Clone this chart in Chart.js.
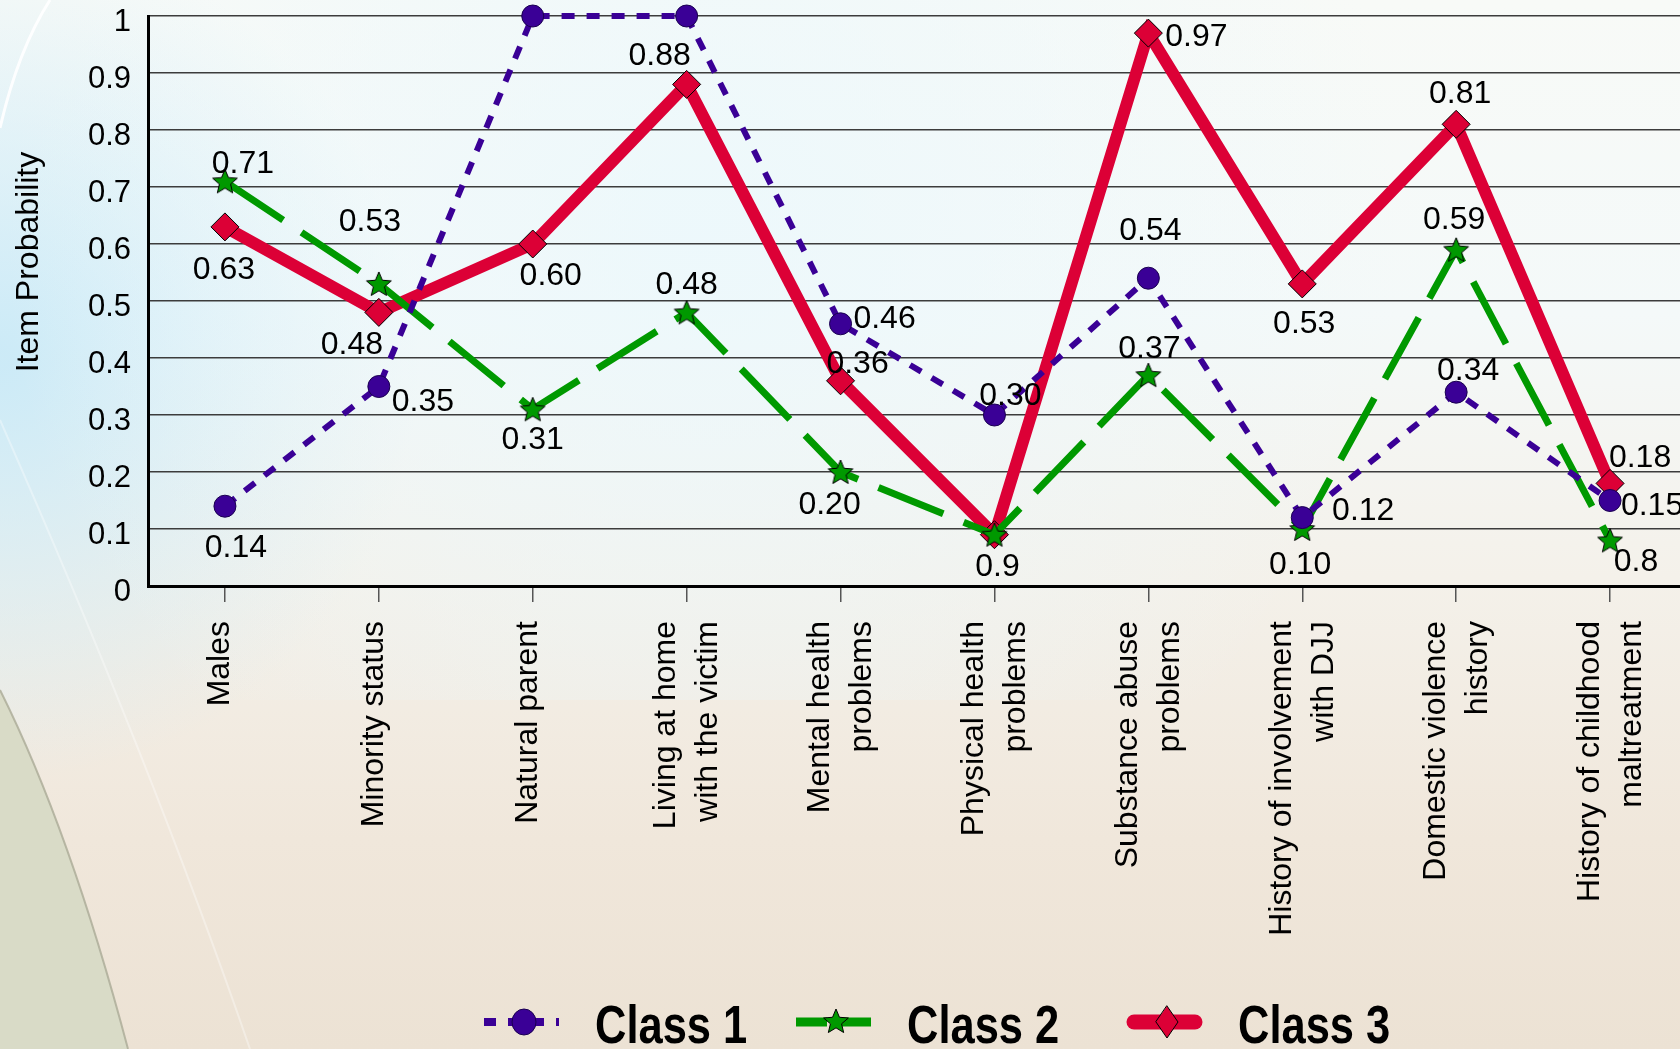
<!DOCTYPE html>
<html>
<head>
<meta charset="utf-8">
<script src="https://cdn.jsdelivr.net/npm/chart.js@4.4.1/dist/chart.umd.min.js"></script>
<style>
  html, body { margin: 0; padding: 0; width: 1680px; height: 1049px; overflow: hidden; background: #f3efe6; }
  #wrap { position: absolute; left: 0; top: 0; width: 1700px; height: 1049px; }
</style>
</head>
<body>
<div id="wrap"><canvas id="chart" width="1700" height="1049"></canvas></div>
<script>
// categories along the x axis (multi-line ones as arrays)
const categories = [
  'Males',
  'Minority status',
  'Natural parent',
  ['Living at home', 'with the victim'],
  ['Mental health', 'problems'],
  ['Physical health', 'problems'],
  ['Substance abuse', 'problems'],
  ['History of involvement', 'with DJJ'],
  ['Domestic violence', 'history'],
  ['History of childhood', 'maltreatment']
];

const seriesNames = ['Class 1', 'Class 2', 'Class 3'];

const class1 = [0.14, 0.35, 1.00, 1.00, 0.46, 0.30, 0.54, 0.12, 0.34, 0.15];
const class2 = [0.71, 0.53, 0.31, 0.48, 0.20, 0.09, 0.37, 0.10, 0.59, 0.08];
const class3 = [0.63, 0.48, 0.60, 0.88, 0.36, 0.09, 0.97, 0.53, 0.81, 0.18];

// value labels as printed on the chart (null = no label)
const class1Labels = ['0.14', '0.35', null, null, '0.46', '0.30', '0.54', '0.12', '0.34', '0.15'];
const class2Labels = ['0.71', '0.53', '0.31', '0.48', '0.20', null, '0.37', '0.10', '0.59', '0.8'];
const class3Labels = ['0.63', '0.48', '0.60', '0.88', '0.36', '0.9', '0.97', '0.53', '0.81', '0.18'];

const yTickLabels = ['0', '0.1', '0.2', '0.3', '0.4', '0.5', '0.6', '0.7', '0.8', '0.9', '1'];
const yTitle = 'Item Probability';

// where each value label sits relative to its point (px)
const class1Off = [[11, 42], [44, 16], null, null, [44, -5], [16, -19], [2, -47], [61, -6], [12, -21], [42, 6]];
const class2Off = [[18, -17], [-9, -62], [0, 31], [0, -27], [-11, 33], null, [1, -26], [-2, 36], [-2, -30], [26, 22]];
const class3Off = [[-1, 43], [-27, 33], [18, 32], [-27, -28], [17, -17], [3, 32], [48, 4], [2, 40], [4, -30], [30, -25]];

const FONT = '"Liberation Sans", Arial, sans-serif';
const PURPLE = '#3a0096';
const GREEN = '#009900';
const RED = '#dc0036';

function makeStar(size, fill) {
  const c = document.createElement('canvas');
  c.width = c.height = size;
  const g = c.getContext('2d');
  const cx = size / 2, R = size / 2 - 1, r = R * 0.45;
  g.beginPath();
  for (let i = 0; i < 10; i++) {
    const a = -Math.PI / 2 + i * Math.PI / 5;
    const rad = i % 2 ? r : R;
    g.lineTo(cx + rad * Math.cos(a), cx + 1 + rad * Math.sin(a));
  }
  g.closePath();
  g.fillStyle = fill;
  g.fill();
  g.lineWidth = 1;
  g.strokeStyle = '#000';
  g.stroke();
  return c;
}
const star = makeStar(28, GREEN);

// background of the slide
const bgPlugin = {
  id: 'bg',
  beforeDraw(chart) {
    const ctx = chart.ctx, w = chart.width, h = chart.height;
    ctx.save();
    let g = ctx.createLinearGradient(0, 0, 0, h);
    g.addColorStop(0, '#f8faf7');
    g.addColorStop(0.3, '#f4f9f9');
    g.addColorStop(0.55, '#f4f1ea');
    g.addColorStop(0.8, '#f0e7db');
    g.addColorStop(1, '#ece2d4');
    ctx.fillStyle = g;
    ctx.fillRect(0, 0, w, h);

    g = ctx.createRadialGradient(0, 360, 10, 0, 360, 420);
    g.addColorStop(0, 'rgba(200,233,247,0.9)');
    g.addColorStop(1, 'rgba(200,233,247,0)');
    ctx.fillStyle = g;
    ctx.fillRect(0, 0, 500, 800);

    g = ctx.createRadialGradient(700, 230, 10, 700, 230, 700);
    g.addColorStop(0, 'rgba(235,248,252,0.8)');
    g.addColorStop(1, 'rgba(235,248,252,0)');
    ctx.fillStyle = g;
    ctx.fillRect(0, 0, w, 700);

    // grey-green swoosh bottom left
    ctx.beginPath();
    ctx.moveTo(0, 690);
    ctx.quadraticCurveTo(70, 830, 128, 1049);
    ctx.lineTo(0, 1049);
    ctx.closePath();
    ctx.fillStyle = '#d9dbc7';
    ctx.fill();
    ctx.strokeStyle = 'rgba(170,170,150,0.8)';
    ctx.lineWidth = 2;
    ctx.beginPath();
    ctx.moveTo(0, 690);
    ctx.quadraticCurveTo(70, 830, 128, 1049);
    ctx.stroke();

    ctx.strokeStyle = 'rgba(255,255,255,0.35)';
    ctx.lineWidth = 2;
    ctx.beginPath();
    ctx.moveTo(0, 420);
    ctx.quadraticCurveTo(150, 760, 250, 1049);
    ctx.stroke();

    ctx.strokeStyle = 'rgba(255,255,255,0.9)';
    ctx.lineWidth = 3;
    ctx.beginPath();
    ctx.moveTo(50, 0);
    ctx.quadraticCurveTo(18, 50, 0, 128);
    ctx.stroke();
    ctx.restore();
  }
};

// value labels, y title, category labels and legend
const textPlugin = {
  id: 'texts',
  afterDatasetsDraw(chart) {
    const ctx = chart.ctx;
    const sets = [[class1Labels, class1Off], [class2Labels, class2Off], [class3Labels, class3Off]];
    ctx.save();
    ctx.font = '32px ' + FONT;
    ctx.fillStyle = '#000';
    ctx.textAlign = 'center';
    ctx.textBaseline = 'middle';
    sets.forEach(function(s, di) {
      const meta = chart.getDatasetMeta(di);
      s[0].forEach(function(txt, i) {
        if (!txt) return;
        const p = meta.data[i];
        ctx.fillText(txt, p.x + s[1][i][0], p.y + s[1][i][1]);
      });
    });
    ctx.restore();
  },
  afterDraw(chart) {
    const ctx = chart.ctx;
    const xs = chart.scales.x;
    ctx.save();
    ctx.fillStyle = '#000';

    // y axis title
    ctx.font = '32px ' + FONT;
    ctx.translate(29, 262);
    ctx.rotate(-Math.PI / 2);
    ctx.textAlign = 'center';
    ctx.textBaseline = 'middle';
    ctx.fillText(yTitle, 0, 0);
    ctx.setTransform(1, 0, 0, 1, 0, 0);

    // rotated category labels
    const lh = 42;
    categories.forEach(function(lab, i) {
      const lines = Array.isArray(lab) ? lab : [lab];
      const cx = xs.getPixelForTick(i) + (lines.length === 1 ? -5 : 1);
      lines.forEach(function(t, j) {
        const x = cx + (j - (lines.length - 1) / 2) * lh;
        ctx.save();
        ctx.translate(x, 621);
        ctx.rotate(-Math.PI / 2);
        ctx.textAlign = 'right';
        ctx.textBaseline = 'middle';
        ctx.fillText(t, 0, 0);
        ctx.restore();
      });
    });

    // legend
    const legendX = [484, 796, 1127];
    const ly = 1022;
    legendX.forEach(function(x0, i) {
      const ds = chart.data.datasets[i];
      ctx.save();
      ctx.strokeStyle = ds.borderColor;
      if (i === 0) { ctx.lineWidth = 8; ctx.setLineDash([12, 12]); ctx.lineCap = 'butt'; }
      if (i === 1) { ctx.lineWidth = 9; ctx.setLineDash([31, 14]); ctx.lineCap = 'butt'; }
      if (i === 2) { ctx.lineWidth = 15; ctx.lineCap = 'round'; }
      ctx.beginPath();
      ctx.moveTo(x0 + (i === 2 ? 7 : 0), ly);
      ctx.lineTo(x0 + 75 - (i === 2 ? 7 : 0), ly);
      ctx.stroke();
      ctx.setLineDash([]);
      const mx = x0 + 40;
      if (i === 0) {
        ctx.beginPath();
        ctx.ellipse(mx, ly, 12, 13, 0, 0, Math.PI * 2);
        ctx.fillStyle = PURPLE; ctx.fill();
        ctx.lineWidth = 1; ctx.strokeStyle = '#1a0050'; ctx.stroke();
      } else if (i === 1) {
        ctx.drawImage(star, mx - 14, ly - 15);
      } else {
        ctx.beginPath();
        ctx.moveTo(mx, ly - 16); ctx.lineTo(mx + 11, ly); ctx.lineTo(mx, ly + 16); ctx.lineTo(mx - 11, ly);
        ctx.closePath();
        ctx.fillStyle = RED; ctx.fill();
        ctx.lineWidth = 1; ctx.strokeStyle = '#000'; ctx.stroke();
      }
      // narrow bold label
      ctx.fillStyle = '#000';
      ctx.font = 'bold 53px ' + FONT;
      ctx.textAlign = 'left';
      ctx.textBaseline = 'alphabetic';
      ctx.translate(x0 + 111, ly + 21);
      ctx.scale(0.82, 1);
      ctx.fillText(ds.label, 0, 0);
      ctx.restore();
    });
    ctx.restore();
  }
};

new Chart(document.getElementById('chart'), {
  type: 'line',
  data: {
    labels: categories,
    datasets: [{
      label: seriesNames[0],
      data: class1,
      borderColor: PURPLE,
      borderWidth: 6,
      borderDash: [13, 12],
      pointStyle: 'circle',
      pointRadius: 11,
      pointBackgroundColor: PURPLE,
      pointBorderColor: '#1a0050',
      pointBorderWidth: 1,
      tension: 0,
      clip: false
    }, {
      label: seriesNames[1],
      data: class2,
      borderColor: GREEN,
      borderWidth: 7,
      borderDash: [70, 22],
      pointStyle: star,
      pointRadius: 13,
      tension: 0,
      clip: false
    }, {
      label: seriesNames[2],
      data: class3,
      borderColor: RED,
      borderWidth: 12,
      pointStyle: 'rectRot',
      pointRadius: 14,
      pointBackgroundColor: RED,
      pointBorderColor: '#000',
      pointBorderWidth: 1,
      tension: 0,
      clip: false
    }]
  },
  options: {
    responsive: false,
    animation: false,
    devicePixelRatio: 1,
    layout: { autoPadding: false, padding: { top: 0, right: 13, left: 0, bottom: 0 } },
    plugins: { legend: { display: false }, tooltip: { enabled: false } },
    scales: {
      x: {
        offset: true,
        grid: { display: true, drawOnChartArea: false, drawTicks: true, tickLength: 16, offset: false, color: '#555', lineWidth: 1.5 },
        border: { display: true, color: '#000', width: 3 },
        ticks: { display: false },
        afterFit: function(s) { s.height = 1049 - 586; s.paddingLeft = 0; s.paddingRight = 0; }
      },
      y: {
        min: 0,
        max: 1,
        ticks: {
          stepSize: 0.1,
          padding: 17,
          labelOffset: 6,
          color: '#000',
          font: { family: FONT, size: 31 },
          callback: function(v, i) { return yTickLabels[i]; }
        },
        grid: { color: '#3c3c3c', lineWidth: 1.5, drawTicks: false },
        border: { display: true, color: '#000', width: 3 },
        afterFit: function(s) { s.width = 148; s.paddingTop = 16; s.paddingBottom = 0; }
      }
    }
  },
  plugins: [bgPlugin, textPlugin]
});
</script>
</body>
</html>
